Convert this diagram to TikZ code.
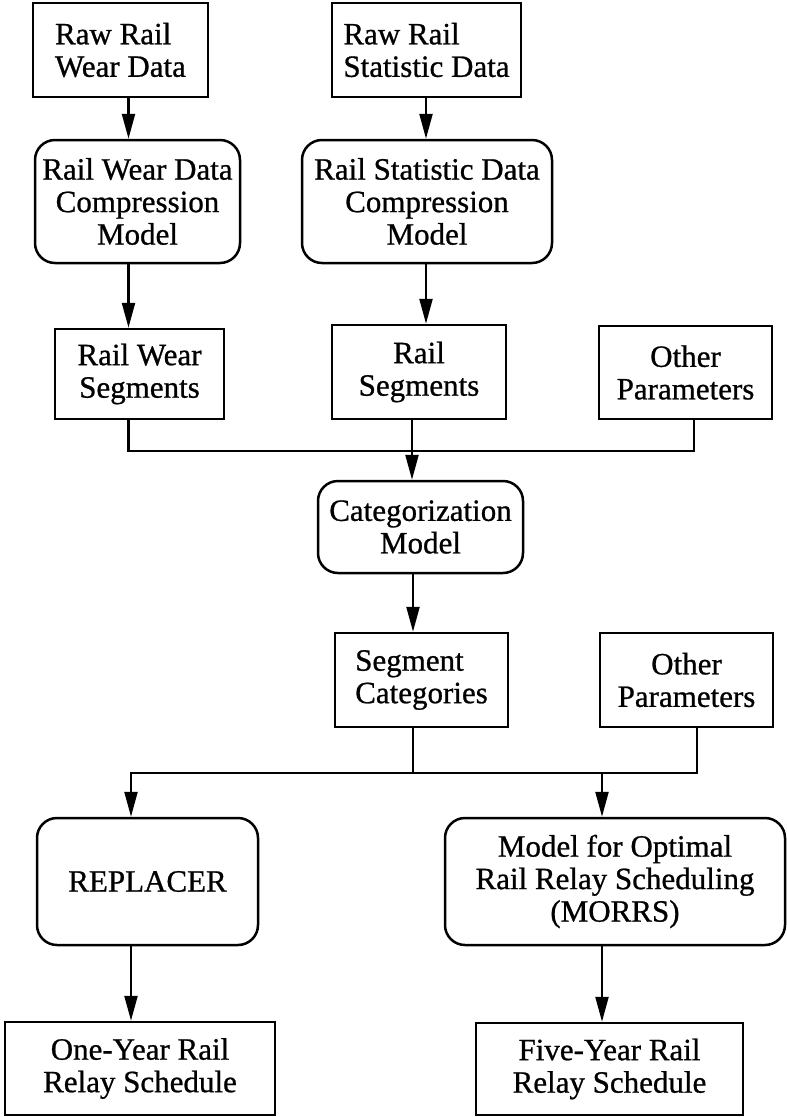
\documentclass[tikz,border=0pt]{standalone}
\usepackage{fontspec}
\setmainfont{Liberation Serif}[FakeBold=0.8]
\usetikzlibrary{arrows.meta}
\begin{document}
\begin{tikzpicture}[x=1pt,y=-1pt,
  box/.style={draw, line width=2.5pt, inner sep=0pt, font=\fontsize{31}{32.5}\selectfont, align=center},
  rbox/.style={box, rounded corners=20pt},
  conn/.style={line width=2.3pt},
  arr/.style={conn, -{Triangle[length=25pt,width=13pt]}}]
\useasboundingbox (0,0) rectangle (787,1117);
% top row
\node[box, align=left, minimum width=175pt, minimum height=94pt] (raw1) at (120.5,50) {Raw Rail\\Wear Data};
\node[box, align=left, minimum width=189pt, minimum height=94pt] (raw2) at (426.5,50) {Raw Rail\\Statistic Data};
% compression models
\node[rbox, minimum width=205pt, minimum height=123pt] (comp1) at (137.5,201.5) {Rail Wear Data\\Compression\\Model};
\node[rbox, minimum width=250pt, minimum height=123pt] (comp2) at (427,201.5) {Rail Statistic Data\\Compression\\Model};
% segments row
\node[box, minimum width=169pt, minimum height=90pt] (rws) at (139.5,374) {Rail Wear\\Segments};
\node[box, minimum width=174pt, minimum height=94pt] (rs) at (419,372) {Rail\\Segments};
\node[box, minimum width=173pt, minimum height=93pt] (op1) at (685.5,372.5) {Other\\Parameters};
% categorization
\node[rbox, minimum width=205pt, minimum height=92pt] (cat) at (420.5,527) {Categorization\\Model};
% categories row
\node[box, align=left, minimum width=173pt, minimum height=94pt] (segcat) at (421.5,680) {Segment\\Categories};
\node[box, minimum width=173pt, minimum height=94pt] (op2) at (686.5,680) {Other\\Parameters};
% models
\node[rbox, minimum width=221pt, minimum height=127pt] (repl) at (147.5,881.5) {REPLACER};
\node[rbox, minimum width=340pt, minimum height=127pt] (morrs) at (615,881.5) {Model for Optimal\\Rail Relay Scheduling\\(MORRS)};
% schedules
\node[box, minimum width=270pt, minimum height=93pt] (one) at (140,1068.5) {One-Year Rail\\Relay Schedule};
\node[box, minimum width=267pt, minimum height=92pt] (five) at (609.5,1069) {Five-Year Rail\\Relay Schedule};
% helper coordinates
\coordinate (xa) at (128.5,0);
\coordinate (xb) at (426,0);
\coordinate (xr) at (412,0);
\coordinate (xo) at (694,0);
\coordinate (m1) at (0,451);
\coordinate (xs) at (413,0);
\coordinate (xo2) at (697,0);
\coordinate (xl) at (131,0);
\coordinate (xm) at (602,0);
\coordinate (m2) at (0,773);
% connectors
\draw[arr] (raw1.south -| xa) -- (comp1.north -| xa);
\draw[arr] (raw2.south -| xb) -- (comp2.north -| xb);
\draw[arr] (comp1.south -| xa) -- (rws.north -| xa);
\draw[arr] (comp2.south -| xb) -- (rs.north -| xb);
\draw[conn] (rws.south -| xa) |- (m1 -| xo) -- (op1.south -| xo);
\draw[arr] (rs.south -| xr) -- (cat.north -| xr);
\draw[arr] (cat.south -| xs) -- (segcat.north -| xs);
\draw[conn] (segcat.south -| xs) -- (m2 -| xs);
\draw[arr] (op2.south -| xo2) |- (m2 -| xl) -- (repl.north -| xl);
\draw[arr] (m2 -| xm) -- (morrs.north -| xm);
\draw[arr] (repl.south -| xl) -- (one.north -| xl);
\draw[arr] (morrs.south -| xm) -- (five.north -| xm);
\end{tikzpicture}
\end{document}
